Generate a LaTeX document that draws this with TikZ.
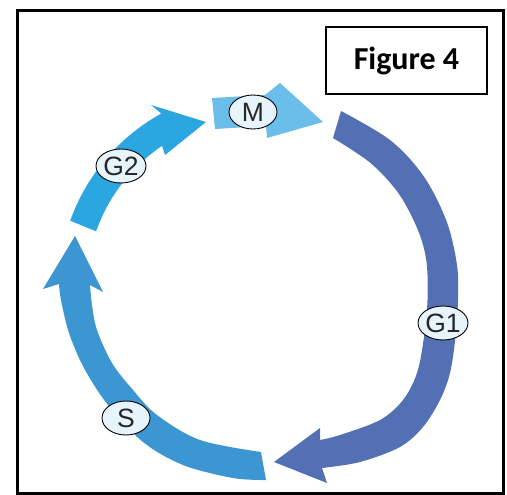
\documentclass[tikz,border=0pt]{standalone}
\usepackage{fontspec}
\setmainfont{Liberation Sans}
\newfontfamily\titlefont{Carlito}
\usetikzlibrary{shapes.geometric}
\definecolor{gonecol}{HTML}{5470B4}
\definecolor{sphasecol}{HTML}{3C96D2}
\definecolor{gtwocol}{HTML}{2CA6E0}
\definecolor{mphasecol}{HTML}{6CBEEA}
\definecolor{tagfill}{HTML}{E8F4FC}
\begin{document}
\begin{tikzpicture}[x=1pt,y=-1pt,
  phasetag/.style={ellipse, draw=black, line width=0.9pt, fill=tagfill,
    minimum width=48pt, minimum height=34pt, inner sep=0pt,
    text=black!85, font=\fontsize{26.5}{26.5}\selectfont},
  titlebox/.style={draw, line width=1.6pt, minimum width=161pt,
    minimum height=67pt, inner sep=0pt,
    font=\titlefont\bfseries\fontsize{32}{32}\selectfont},
  smoothedge/.style={smooth, tension=0.55}]
\useasboundingbox (0,0) rectangle (507,495);
% outer frame
\draw[line width=2.4pt] (17.5,10.5) rectangle (503.5,493.5);
\node[titlebox] (title) at (406.5,60.5) {Figure 4};

% G1 band with its arrowhead
\fill[gonecol] plot[smoothedge] coordinates {(341,111) (390,140) (423.5,176)
    (446.5,221) (457,265) (458,300) (455.5,337) (450,373) (440,400)
    (423,427) (400,447) (360,462) (322,468)}
  -- (327,483) -- (274,462) -- (320,428)
  -- plot[smoothedge] coordinates {(320,440) (340,435) (380,420) (403,400)
    (417,373) (424,337) (427.5,300) (426.5,262) (418.3,231) (399,194)
    (370.5,163) (333,138)} -- cycle;

% S band with its arrowhead
\fill[sphasecol] plot[smoothedge] coordinates {(266,480) (233,478) (183,465)
    (143,442) (108,405) (84,368) (69,333) (61,300) (59,284)}
  -- (43,289) -- (75,236) -- (103,292)
  -- plot[smoothedge] coordinates {(90,285) (92,305) (97,330) (112,363)
    (133,390) (157,415) (200,440) (261,452)} -- cycle;

% G2 band with its arrowhead
\fill[gtwocol] plot[domain=160.3:119, samples=30]
    ({258+199.5*cos(\x)},{288-199.5*sin(\x)})
  -- (151,105) -- (206,122) -- (165,155)
  -- plot[domain=124:160.7, samples=30]
    ({258+171.5*cos(\x)},{288-171.5*sin(\x)}) -- cycle;

% M arrow
\fill[mphasecol] (212,98) -- (265,95) -- (280,83) -- (323,122)
  -- (267,138) -- (266,126) -- (215,129) -- cycle;

% phase labels
\node[phasetag] (m)  at (253,112) {M};
\node[phasetag] (g2) at (121,166) {G2};
\node[phasetag] (g1) at (443,323) {G1};
\node[phasetag] (s)  at (126,418) {S};
\end{tikzpicture}
\end{document}
